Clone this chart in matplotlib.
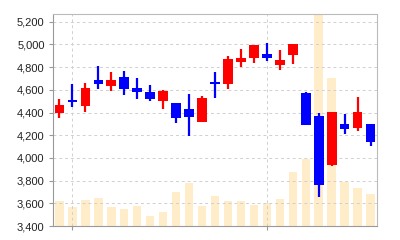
import matplotlib
matplotlib.use("Agg")
import matplotlib.pyplot as plt
import numpy as np
from matplotlib.ticker import FuncFormatter

plt.rcParams["font.family"] = ["Liberation Sans", "DejaVu Sans"]

# daily OHLC (red = up, blue = down) and volume
opens = [4400, 4515, 4455, 4685, 4633, 4710, 4620, 4580, 4505, 4480, 4430, 4320, 4672,
         4650, 4845, 4878, 4920, 4820, 4905, 4570, 4370, 3940, 4295, 4260, 4300]
highs = [4520, 4650, 4665, 4810, 4757, 4765, 4705, 4645, 4600, 4485, 4560, 4545, 4755,
         4900, 4960, 4997, 5010, 4950, 5000, 4582, 4400, 4405, 4385, 4535, 4300]
lows = [4350, 4450, 4405, 4605, 4592, 4557, 4520, 4505, 4435, 4310, 4190, 4315, 4525,
        4605, 4805, 4833, 4856, 4775, 4825, 4290, 3660, 3930, 4210, 4237, 4107]
closes = [4470, 4490, 4615, 4650, 4686, 4605, 4585, 4520, 4590, 4350, 4360, 4530, 4655,
          4870, 4885, 4995, 4878, 4862, 5000, 4290, 3760, 4405, 4255, 4405, 4145]
volumes = [250, 190, 257, 280, 190, 170, 197, 100, 143, 340, 427, 200, 297,
           250, 250, 210, 230, 270, 537, 670, 2117, 1483, 437, 377, 320]
month_starts = [1, 16]

x = np.arange(len(opens))
o = np.array(opens)
c = np.array(closes)
up = c >= o
colors = np.where(up, "#ff0000", "#0000ff")
body_bottom = np.minimum(o, c)
body_h = np.maximum(np.abs(c - o), 12)

fig = plt.figure(figsize=(4, 2.4), dpi=100)
ax = fig.add_axes([0.1325, 0.058, 0.81, 0.882])
axv = ax.twinx()

# volume in the back
axv.bar(x, volumes, width=0.65, color="#ffecc8", zorder=1)
axv.set_ylim(0, 2117)
axv.set_yticks([])
axv.tick_params(right=False)

ax.set_zorder(axv.get_zorder() + 1)
ax.patch.set_visible(False)

ax.vlines(x, lows, highs, colors=colors, lw=1.6, zorder=3)
ax.bar(x, body_h, bottom=body_bottom, width=0.75, color=colors, zorder=4)

ax.set_xlim(-0.5, len(x) - 0.5)
ax.set_ylim(3400, 5265)
ax.set_yticks(np.arange(3400, 5201, 200))
ax.yaxis.set_major_formatter(FuncFormatter(lambda v, p: f"{int(v):,}"))
ax.set_xticks(month_starts)
ax.set_xticklabels([])
ax.grid(True, color="#d0d0d0", ls=(0, (3, 3)), lw=0.7, zorder=0)
ax.tick_params(axis="both", length=3, color="#999999", labelsize=8, labelcolor="#222222", pad=3)

for s in ["left", "bottom"]:
    ax.spines[s].set_color("#999999")
for s in ["top", "right"]:
    ax.spines[s].set_color("#bbbbbb")
for s in axv.spines.values():
    s.set_visible(False)

plt.savefig("out.png", dpi=100)
